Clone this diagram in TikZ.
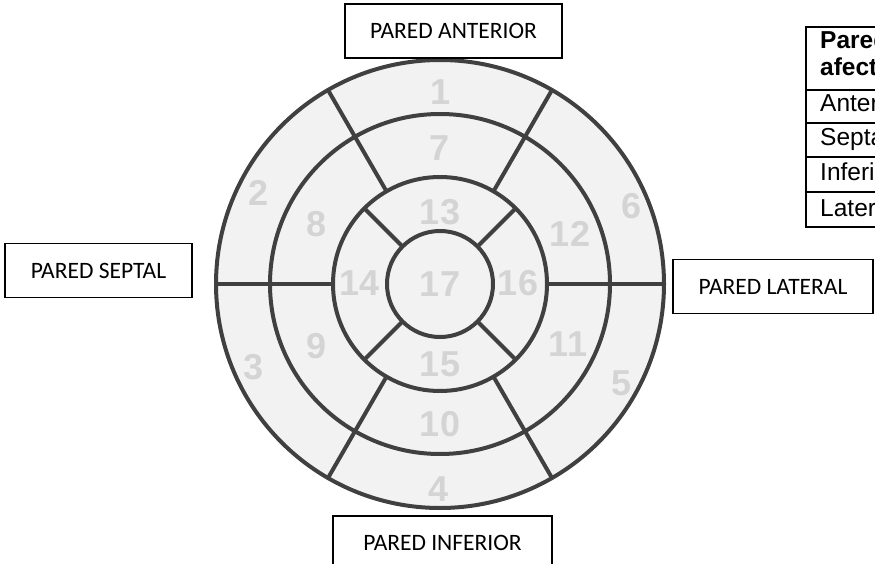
\documentclass[tikz,border=0pt]{standalone}
\usepackage{fontspec}
\setmainfont{Carlito}
\newfontfamily\arialf{Liberation Sans}
\definecolor{ringline}{HTML}{404040}
\definecolor{ringfill}{HTML}{F2F2F2}
\definecolor{segnum}{HTML}{D4D4D4}
\tikzset{
  ring/.style={circle, draw=ringline, line width=4pt, inner sep=0pt, outer sep=0pt, minimum size=#1},
  spoke/.style={draw=ringline, line width=4pt},
  wallbox/.style={draw=black, line width=1.3pt, inner sep=0pt, minimum height=54pt,
     font=\fontsize{23.5}{28}\selectfont},
  segno/.style={text=segnum, font=\arialf\bfseries\fontsize{36}{36}\selectfont, inner sep=0pt},
  tabtxt/.style={anchor=base west, inner sep=0pt, font=\arialf\fontsize{24.5}{28}\selectfont},
  tabhead/.style={anchor=base west, inner sep=0pt, font=\arialf\bfseries\fontsize{24.5}{28}\selectfont},
  tabrule/.style={draw=black, line width=1.4pt}
}
\begin{document}
\begin{tikzpicture}[x=1pt,y=-1pt]
\useasboundingbox (0,0) rectangle (875,564);
\clip (0,0) rectangle (875,564);

% bullseye
\coordinate (C) at (440,284);
\fill[ringfill] (C) circle[radius=224];
\node[ring=448pt] (r4) at (C) {};
\node[ring=340pt] (r3) at (C) {};
\node[ring=214pt] (r2) at (C) {};
\node[ring=106pt] (r1) at (C) {};
\foreach \a in {45,135,225,315} { \draw[spoke] (r1.\a) -- (r2.\a); }
\foreach \a in {0,60,120,180,240,300} { \draw[spoke] (r2.\a) -- (r4.\a); }

% segment numbers
\node[segno] (s1)  at (441,92)  {1};
\node[segno] (s2)  at (259,193) {2};
\node[segno] (s3)  at (254,367) {3};
\node[segno] (s4)  at (439,489) {4};
\node[segno] (s5)  at (622,383) {5};
\node[segno] (s6)  at (632,206) {6};
\node[segno] (s7)  at (440,148) {7};
\node[segno] (s8)  at (317,224) {8};
\node[segno] (s9)  at (317,346) {9};
\node[segno] (s10) at (440,424) {10};
\node[segno] (s11) at (568,344) {11};
\node[segno] (s12) at (570,234) {12};
\node[segno] (s13) at (440,212) {13};
\node[segno] (s14) at (360,283) {14};
\node[segno] (s15) at (440,364) {15};
\node[segno] (s16) at (518,283) {16};
\node[segno] (s17) at (440,284) {17};

% wall labels
\node[wallbox, minimum width=217pt] (ant) at (453.5,31)  {PARED ANTERIOR};
\node[wallbox, minimum width=187pt] (sep) at (98.5,270.5) {PARED SEPTAL};
\node[wallbox, minimum width=200pt] (lat) at (773,286.5) {PARED LATERAL};
\node[wallbox, minimum width=219pt] (inf) at (442.5,543) {PARED INFERIOR};

% table (cut by the right edge)
\draw[tabrule] (806,27) rectangle (990,227);
\draw[tabrule] (806,90) -- (990,90);
\draw[tabrule] (806,123) -- (990,123);
\draw[tabrule] (806,157) -- (990,157);
\draw[tabrule] (806,192) -- (990,192);
\node[tabhead] (h1) at (820,49) {Pared};
\node[tabhead] (h2) at (820,76) {afectada};
\node[tabtxt] (t1) at (820,112) {Anterior};
\node[tabtxt] (t2) at (820,146) {Septal};
\node[tabtxt] (t3) at (820,181) {Inferior};
\node[tabtxt] (t4) at (820,216) {Lateral};
\end{tikzpicture}
\end{document}
